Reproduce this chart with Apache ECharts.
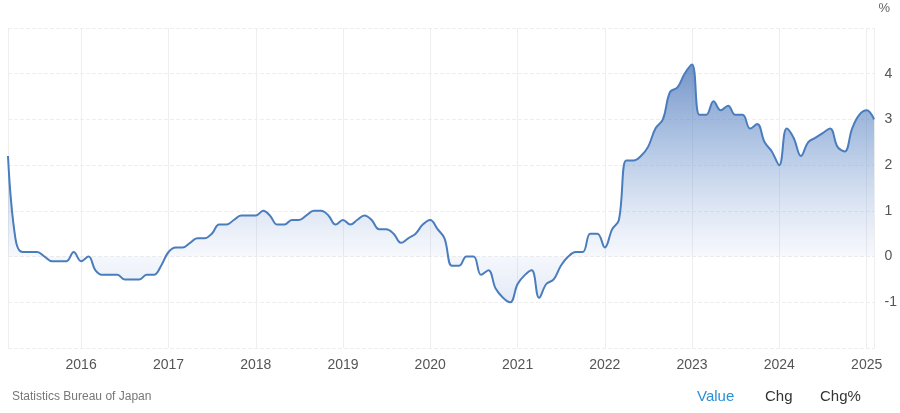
<!DOCTYPE html>
<html>
<head>
<meta charset="utf-8">
<script src="https://cdn.jsdelivr.net/npm/echarts@6/dist/echarts.min.js"></script>
<style>html,body{margin:0;padding:0;background:#fff}#chart{width:900px;height:413px}</style>
</head>
<body>
<div id="chart"></div>
<script>
// monthly inflation rate, first value is March 2015
var startYear = 2015, startMonth = 3;
var values = [
    2.2, 0.4, 0.1, 0.1, 0.1, 0.0, -0.1, -0.1, -0.1, 0.1,
    -0.1, 0.0, -0.3, -0.4, -0.4, -0.4, -0.5, -0.5, -0.5, -0.4, -0.4, -0.2,
    0.1, 0.2, 0.2, 0.3, 0.4, 0.4, 0.5, 0.7, 0.7, 0.8, 0.9, 0.9,
    0.9, 1.0, 0.9, 0.7, 0.7, 0.8, 0.8, 0.9, 1.0, 1.0, 0.9, 0.7,
    0.8, 0.7, 0.8, 0.9, 0.8, 0.6, 0.6, 0.5, 0.3, 0.4, 0.5, 0.7,
    0.8, 0.6, 0.4, -0.2, -0.2, 0.0, 0.0, -0.4, -0.3, -0.7, -0.9, -1.0,
    -0.6, -0.4, -0.3, -0.9, -0.6, -0.5, -0.2, 0.0, 0.1, 0.1, 0.5, 0.5,
    0.2, 0.6, 0.8, 2.1, 2.1, 2.2, 2.4, 2.8, 3.0, 3.6, 3.7, 4.0,
    4.2, 3.1, 3.1, 3.4, 3.2, 3.3, 3.1, 3.1, 2.8, 2.9, 2.5, 2.3,
    2.0, 2.8, 2.6, 2.2, 2.5, 2.6, 2.7, 2.8, 2.4, 2.3, 2.8, 3.1,
    3.2, 3.0
];

var seriesData = values.map(function (v, i) {
    var m = startMonth - 1 + i;
    return [new Date(startYear + Math.floor(m / 12), m % 12, 1).getTime(), v];
});

var chart = echarts.init(document.getElementById('chart'));
chart.setOption({
    animation: false,
    grid: {left: 8, right: 24, top: 28, bottom: 65},
    xAxis: {
        type: 'time',
        min: new Date(2015, 2, 1).getTime(),
        max: new Date(2025, 1, 3).getTime(),
        splitNumber: 10,
        axisLine: {show: false},
        axisTick: {show: false},
        axisLabel: {formatter: '{yyyy}', color: '#555', fontSize: 14, fontFamily: 'Arial', margin: 10, hideOverlap: true},
        splitLine: {show: true, lineStyle: {color: '#eee'}}
    },
    yAxis: {
        type: 'value',
        position: 'right',
        min: -2, max: 5, interval: 1,
        axisLine: {show: false},
        axisTick: {show: false},
        axisLabel: {
            color: '#555', fontSize: 14, fontFamily: 'Arial', margin: 10,
            formatter: function (v) { return (v <= -2 || v >= 5) ? '' : v; }
        },
        splitLine: {lineStyle: {color: '#eee', type: 'dashed'}}
    },
    series: [{
        type: 'line',
        data: seriesData,
        smooth: 0.4,
        symbol: 'none',
        lineStyle: {color: '#4a7dbd', width: 2},
        areaStyle: {
            color: new echarts.graphic.LinearGradient(0, 0, 0, 1, [
                {offset: 0, color: 'rgba(58,104,178,1)'},
                {offset: 0.4, color: 'rgba(95,138,200,0.6)'},
                {offset: 0.8, color: 'rgba(140,170,220,0.12)'},
                {offset: 1, color: 'rgba(120,155,210,0.3)'}
            ])
        }
    }],
    graphic: [
        {type: 'text', right: 10, top: 2, style: {text: '%', fill: '#666', fontSize: 13, fontFamily: 'Arial'}},
        {type: 'text', left: 12, top: 391, style: {text: 'Statistics Bureau of Japan', fill: '#777', fontSize: 12, fontFamily: 'Arial'}},
        {type: 'text', left: 697, top: 389, style: {text: 'Value', fill: '#2a8fd6', fontSize: 15, fontFamily: 'Arial'}},
        {type: 'text', left: 765, top: 389, style: {text: 'Chg', fill: '#333', fontSize: 15, fontFamily: 'Arial'}},
        {type: 'text', left: 820, top: 389, style: {text: 'Chg%', fill: '#333', fontSize: 15, fontFamily: 'Arial'}}
    ]
});
</script>
</body>
</html>
